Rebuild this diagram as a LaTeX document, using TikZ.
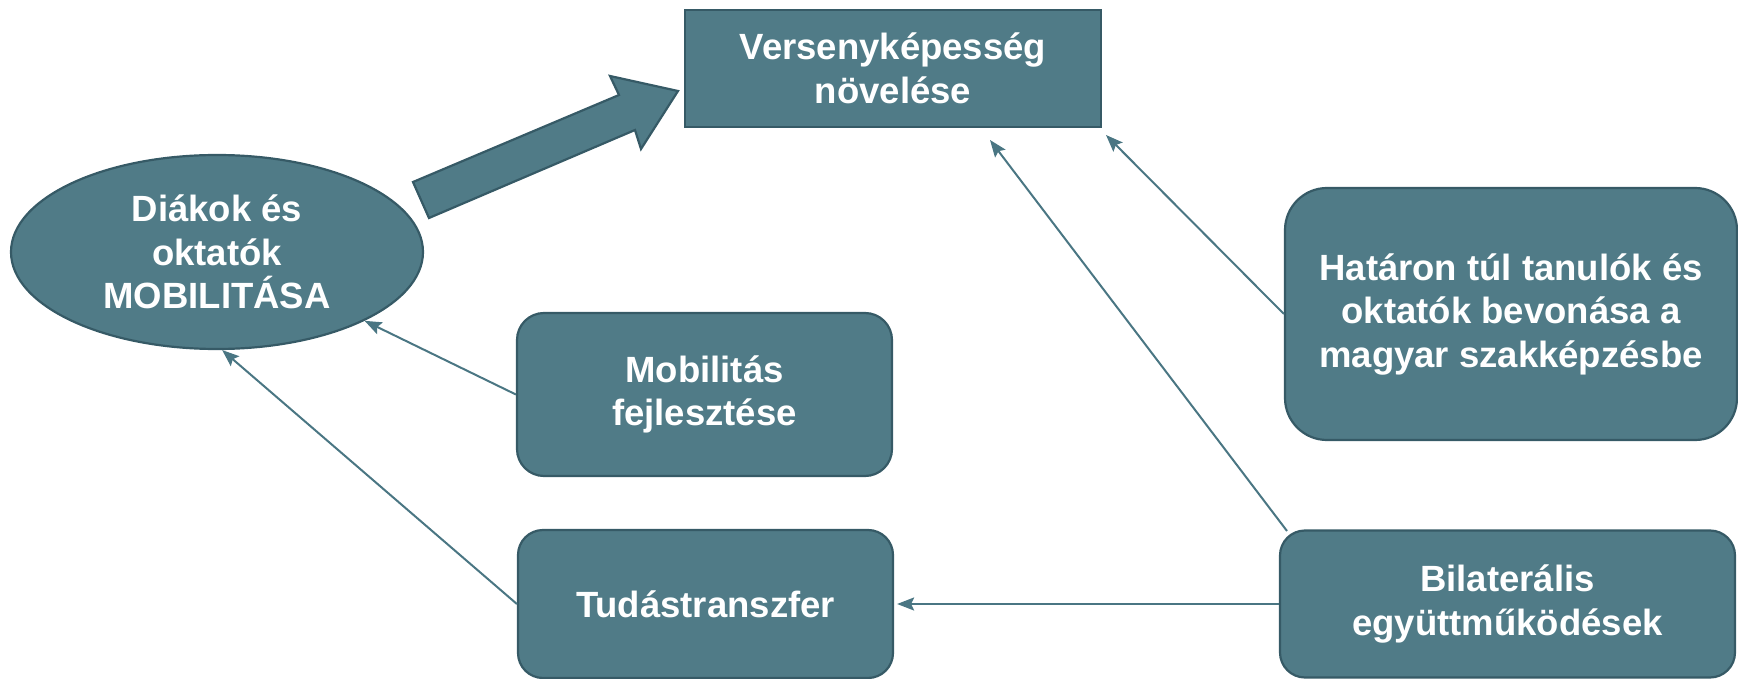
\documentclass[tikz,border=0pt]{standalone}
\usepackage{fontspec}
\setmainfont{Liberation Sans}
\usetikzlibrary{arrows.meta,shapes.geometric}
\definecolor{boxfill}{RGB}{80,123,135}
\definecolor{boxline}{RGB}{54,90,102}
\definecolor{linkcol}{RGB}{74,118,131}
\begin{document}
\begin{tikzpicture}[x=1pt,y=-1pt,
  box/.style={draw=boxline, fill=boxfill, line width=2.2pt, text=white,
    font=\fontsize{36.5}{43.5}\selectfont\bfseries, align=center, inner sep=0pt},
  link/.style={draw=linkcol, line width=2pt, -{Stealth[length=17pt,width=13pt,inset=3pt]}},
  bigarrow/.style={draw=boxline, fill=boxfill, line width=2.2pt, line join=miter}]
\useasboundingbox (0,0) rectangle (1738,679);

\node[box, rectangle, minimum width=416pt, minimum height=117pt] (top) at (893,68.5)
  {Versenyképesség\\növelése};
\node[box, ellipse, minimum width=412pt, minimum height=194pt] (ell) at (217,252)
  {Diákok és\\oktatók\\MOBILITÁSA};
\node[box, rectangle, rounded corners=27pt, minimum width=375pt, minimum height=163pt] (mob) at (704.5,394.5)
  {Mobilitás\\fejlesztése};
\node[box, rectangle, rounded corners=25pt, minimum width=375pt, minimum height=148pt] (tud) at (705.5,604)
  {Tudástranszfer};
\node[box, rectangle, rounded corners=42pt, minimum width=452pt, minimum height=252pt] (hat) at (1511,314)
  {Határon túl tanulók és\\oktatók bevonása a\\magyar szakképzésbe};
\node[box, rectangle, rounded corners=25pt, minimum width=455pt, minimum height=147pt] (bil) at (1507.5,604)
  {Bilaterális\\együttműködések};

% block arrow from the ellipse to the top box
\coordinate (ba1) at (413,182);
\coordinate (ba2) at (619,95);
\coordinate (ba3) at (610,76);
\coordinate (ba4) at (678,91);
\coordinate (ba5) at (641,149);
\coordinate (ba6) at (635,130);
\coordinate (ba7) at (429,218);
\draw[bigarrow] (ba1) -- (ba2) -- (ba3) -- (ba4) -- (ba5) -- (ba6) -- (ba7) -- cycle;

% thin connectors
\coordinate (bilstart) at (1287,531);
\coordinate (topend1) at (990,140);
\coordinate (topend2) at (1106,135);
\draw[link] (mob.west) -- (ell.-25);
\draw[link] (tud.west) -- (ell.-87);
\draw[link] (bil.west) -- ([xshift=3pt]tud.east);
\draw[link] (bilstart) -- (topend1);
\draw[link] (hat.west) -- (topend2);
\end{tikzpicture}
\end{document}
